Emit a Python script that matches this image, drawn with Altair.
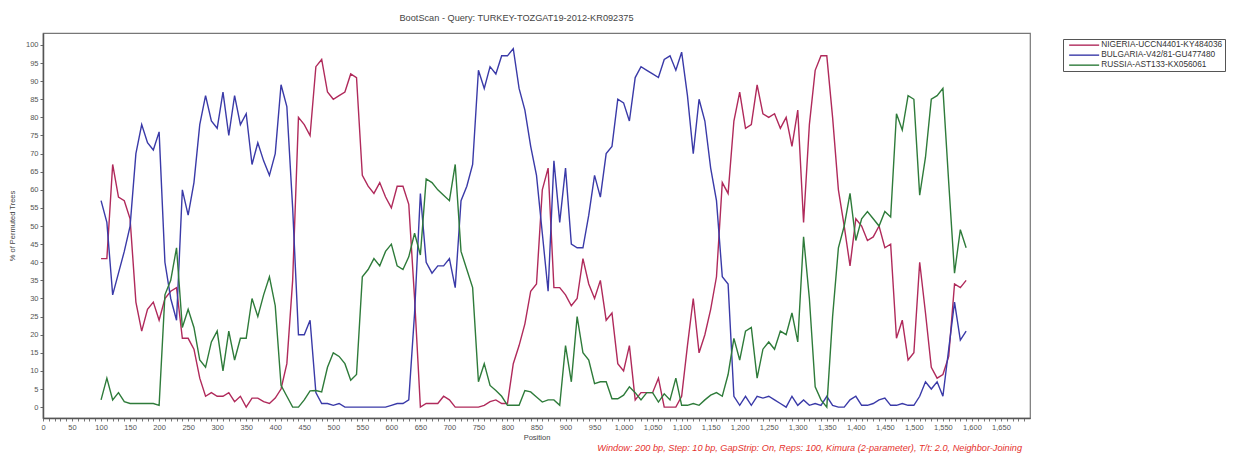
import altair as alt
import pandas as pd

# Window mid-points (bp)
positions = list(range(100, 1600, 10))

nigeria = [41, 41, 67, 58, 57, 52, 29, 21, 27, 29,
           24, 30, 32, 33, 19, 19, 16, 8, 3, 4,
           3, 3, 4, 1.5, 3, 0, 2.5, 2.5, 1.5, 1,
           2.5, 5, 12, 35, 80, 78, 75, 94, 96, 87,
           85, 86, 87, 92, 91, 64, 61, 59, 62, 58,
           55, 61, 61, 56, 30, 0, 1, 1, 1, 3,
           2, 0, 0, 0, 0, 0, 0.5, 1.5, 2, 1,
           1, 12, 17, 23, 32, 34, 60, 66, 33, 33,
           31, 28, 30, 41, 34, 30, 35, 24, 26, 12,
           10, 17, 2, 4, 4, 4, 8, 0, 0, 0,
           3, 17, 30, 15, 20, 27, 36, 62, 59, 79,
           87, 77, 78, 89, 81, 80, 81, 77, 80, 72,
           82, 51, 78, 93, 97, 97, 80, 60, 50, 39,
           52, 50, 46, 47, 50, 44, 45, 19, 24, 13,
           15, 40, 26, 11, 8, 9, 14, 34, 33, 35]

bulgaria = [57, 51, 31, 37, 43, 50, 70, 78, 73, 71,
            76, 40, 30, 24, 60, 53, 62, 78, 86, 79,
            77, 87, 75, 86, 78, 81, 67, 73, 68, 64,
            70, 89, 83, 55, 20, 20, 24, 4, 1, 1,
            0.5, 1, 0, 0, 0, 0, 0, 0, 0, 0,
            0.5, 1, 1, 2, 26, 59, 40, 37, 39, 39,
            41, 33, 57, 61, 67, 93, 88, 94, 92, 97,
            97, 99, 88, 82, 72, 64, 48, 32, 68, 51,
            66, 45, 44, 44, 53, 64, 58, 70, 72, 85,
            84, 79, 91, 94, 93, 92, 91, 96, 97, 93,
            98, 86, 70, 85, 79, 66, 57, 36, 34, 3,
            0.5, 3, 0.5, 3, 2.5, 3, 2, 1, 0, 3,
            0.5, 2, 0.5, 1, 0.5, 3, 0.5, 0, 0, 2,
            3, 0.5, 0.5, 1, 2, 2.5, 0.5, 0.5, 1, 0.5,
            0.5, 3, 7, 5, 7, 3, 16, 29, 18.5, 21]

russia = [2, 8, 2, 4, 1.5, 1, 1, 1, 1, 1,
          0.5, 31, 35, 44, 22, 27, 22, 13, 11, 18,
          21, 10, 21, 13, 19, 19, 30, 25, 31, 36,
          28, 6, 3, 0, 0, 2, 4.5, 4.6, 4.2, 11,
          15, 14, 12, 7.4, 9, 36, 38, 41, 39, 43,
          45, 39, 38, 41.5, 48, 42, 63, 62, 60, 58.5,
          57, 67, 43, 38, 33, 7, 12, 6, 4.6, 3,
          0.5, 0.5, 0.5, 4.6, 4.2, 2.8, 1.4, 2, 2, 0.5,
          17, 7, 25, 15, 13, 6.5, 7, 7, 2.3, 2.3,
          3.3, 5.6, 4, 2, 4, 4, 1.4, 3.7, 2, 8,
          0.5, 0.5, 1, 0.5, 2, 3.3, 4, 3, 9, 19,
          13, 21, 22, 8, 16, 18, 16, 21, 20, 26,
          18, 47, 30, 5.6, 2, 0, 25, 44, 50, 59,
          46, 52, 54, 52, 50, 54, 52.5, 81, 76.5, 86,
          85, 58.5, 69, 85, 86, 88, 62, 37, 49, 44]

series_names = ["NIGERIA-UCCN4401-KY484036",
                "BULGARIA-V42/81-GU477480",
                "RUSSIA-AST133-KX056061"]
series_colors = ["#B02A5B", "#3A3AA8", "#2E7B3A"]

x_ticks = list(range(0, 1700, 10))
y_ticks = list(range(0, 105, 5))

title_text = "BootScan - Query: TURKEY-TOZGAT19-2012-KR092375"
footnote = ("Window: 200 bp, Step: 10 bp, GapStrip: On, Reps: 100, "
            "Kimura (2-parameter), T/t: 2.0, Neighbor-Joining")

rows = []
for name, vals in zip(series_names, [nigeria, bulgaria, russia]):
    for p, v in zip(positions, vals):
        rows.append({"Position": p, "Series": name, "Value": v})
df = pd.DataFrame(rows)

FONT = "Liberation Sans"

lines = alt.Chart(df).mark_line(strokeWidth=1.4).encode(
    x=alt.X("Position:Q",
            scale=alt.Scale(domain=[0, 1700], nice=False, zero=False),
            axis=alt.Axis(values=x_ticks,
                          labelExpr="datum.value % 50 == 0 ? format(datum.value, ',d') : ''",
                          labelOverlap=False, labelFlush=False,
                          title="Position",
                          labelFontSize=7.5, titleFontSize=7.5,
                          titleFontWeight="normal", labelColor="#555",
                          titleColor="#444", tickSize=3, labelPadding=2,
                          titlePadding=3, grid=False, domainColor="#555",
                          domainWidth=1.5, tickColor="#777",
                          labelFont=FONT, titleFont=FONT)),
    y=alt.Y("Value:Q",
            scale=alt.Scale(domain=[-3, 103.3], nice=False, zero=False),
            axis=alt.Axis(values=y_ticks, title="% of Permuted Trees",
                          labelFontSize=7.5, titleFontSize=7.5,
                          titleFontWeight="normal", labelColor="#555",
                          titleColor="#444", tickSize=3, labelPadding=2,
                          titlePadding=9, grid=False, domainColor="#555",
                          domainWidth=1.5, tickColor="#666",
                          labelFont=FONT, titleFont=FONT)),
    color=alt.Color("Series:N",
                    scale=alt.Scale(domain=series_names, range=series_colors),
                    legend=alt.Legend(orient="none", legendX=1020, legendY=6,
                                      title=None, symbolType="M0,0H12",
                                      symbolSize=25, symbolStrokeWidth=1.4,
                                      labelFontSize=8.3, labelFont=FONT,
                                      labelColor="#333", labelLimit=300,
                                      strokeColor="#555", fillColor="white",
                                      padding=2, rowPadding=1,
                                      labelOffset=28)),
    order=alt.Order("Position:Q"),
)

note = alt.Chart(pd.DataFrame({"t": [footnote]})).mark_text(
    align="right", baseline="middle", fontStyle="italic", color="#E5302B",
    fontSize=9.2, font=FONT
).encode(text="t:N", x=alt.value(979), y=alt.value(415))

chart = alt.layer(lines, note).properties(
    width=987, height=385,
    title=alt.TitleParams(title_text, fontSize=9.2, font=FONT,
                          fontWeight="normal", color="#444",
                          anchor="start", dx=391, offset=10),
    autosize=alt.AutoSizeParams(type="none"),
    padding={"left": 35, "top": 25, "right": 199, "bottom": 36},
).configure_view(stroke="#777", strokeWidth=1.2)

chart.save("out.html", embed_options={"renderer": "svg", "actions": False})
